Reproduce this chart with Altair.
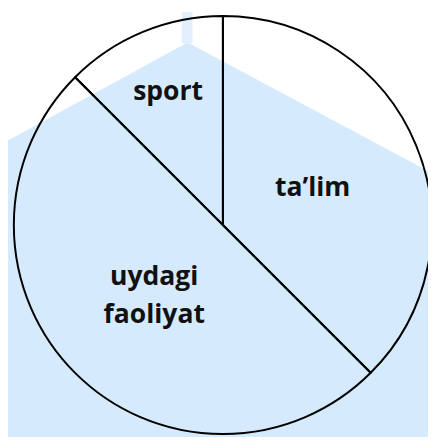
import math
import altair as alt
import pandas as pd

# pie data (clockwise from top)
categories = ["ta\u2019lim", "uydagi\nfaoliyat", "sport"]
shares = [37.5, 50.0, 12.5]

# background watermark (house silhouette)
house_x = [0, 183, 428]
house_roof_y = [131, 31, 162]
chimney_x = [177]
chimney_x2 = [188]

W, H = 428, 433

pie_df = pd.DataFrame({"cat": categories, "share": shares})
house_df = pd.DataFrame({"x": house_x, "y": house_roof_y, "y2": [H] * len(house_x)})
chim_df = pd.DataFrame({"x": chimney_x, "x2": chimney_x2, "y": [0], "y2": [32]})

xs = alt.Scale(domain=[0, W], nice=False, zero=False)
ys = alt.Scale(domain=[H, 0], nice=False, zero=False)

house = alt.Chart(house_df).mark_area(color="#D5EAFC", interpolate="linear").encode(
    x=alt.X("x:Q", scale=xs, axis=None),
    y=alt.Y("y:Q", scale=ys, axis=None),
    y2="y2:Q",
)

chimney = alt.Chart(chim_df).mark_rect(color="#E2F0FD").encode(
    x=alt.X("x:Q", scale=xs, axis=None),
    x2="x2:Q",
    y=alt.Y("y:Q", scale=ys, axis=None),
    y2="y2:Q",
)

tscale = alt.Scale(domain=[0, 100], range=[0, 2 * math.pi])

base = (
    alt.Chart(pie_df)
    .transform_window(idx="row_number()")
    .transform_stack(
        stack="share",
        as_=["start", "end"],
        groupby=[],
        sort=[alt.SortField("idx", order="ascending")],
    )
    .transform_calculate(
        mid="(datum.start + datum.end) / 2",
        r="datum.cat == 'sport' ? 146 : 99",
        multi="indexof(datum.cat, '\\n') >= 0",
    )
)

arcs = base.mark_arc(
    outerRadius=213, fill="transparent", stroke="black", strokeWidth=2
).encode(
    theta=alt.Theta("start:Q", scale=tscale, stack=None),
    theta2="end:Q",
    x=alt.value(219),
    y=alt.value(217),
)

text_style = dict(
    font="Open Sans",
    fontSize=27,
    fontWeight="bold",
    color="#111111",
    lineBreak="\n",
    lineHeight=39,
    align="center",
    baseline="middle",
)

text_enc = dict(
    theta=alt.Theta("mid:Q", scale=tscale, stack=None),
    radius=alt.Radius("r:Q", scale=None),
    x=alt.value(219),
    y=alt.value(217),
    text="cat:N",
)

labels_single = base.transform_filter("!datum.multi").mark_text(**text_style).encode(**text_enc)
labels_multi = base.transform_filter("datum.multi").mark_text(dy=-17, **text_style).encode(**text_enc)

chart = alt.layer(house, chimney, arcs, labels_single, labels_multi).properties(
    width=W, height=H, padding=0, autosize="none", background="white"
).configure_view(stroke=None)

chart.save("out.html", embed_options={"renderer": "svg", "actions": False})
